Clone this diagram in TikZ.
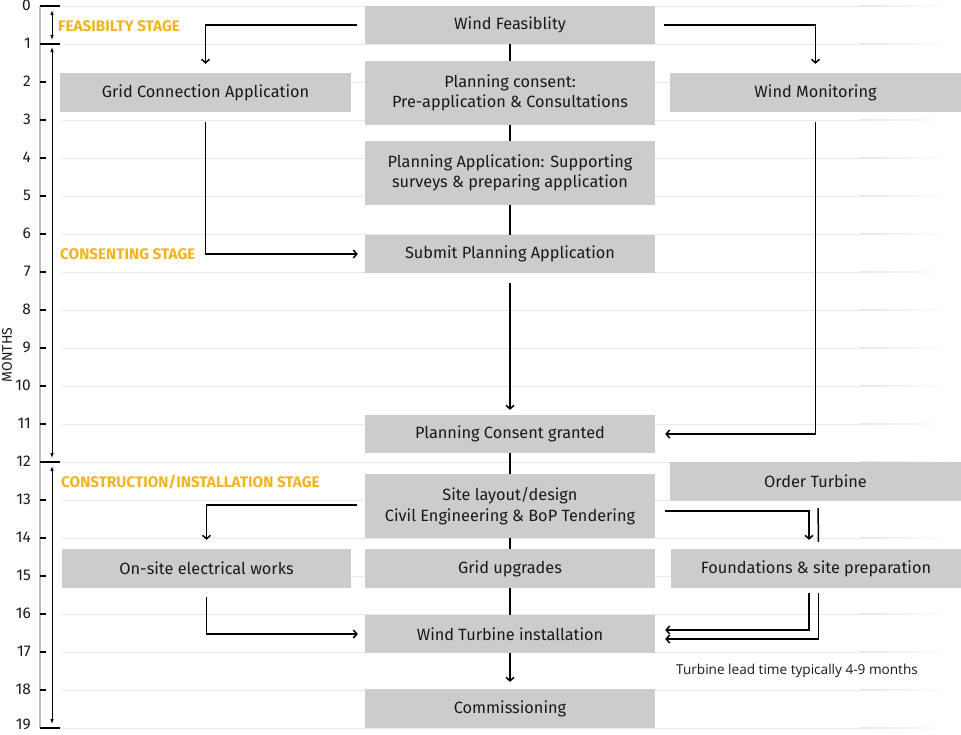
\documentclass[tikz,border=0pt]{standalone}
\usepackage{fontspec}
\setmainfont{Fira Sans}
\newfontfamily\notefont{Open Sans}
\usetikzlibrary{arrows.meta,calc}

\definecolor{boxgray}{RGB}{204,204,204}
\definecolor{stagegold}{RGB}{240,180,30}
\definecolor{gridgray}{RGB}{232,232,232}
\definecolor{axisgray}{RGB}{190,190,190}
\definecolor{ink}{RGB}{25,25,25}

\begin{document}
\begin{tikzpicture}[x=1pt,y=-1pt,
  stepbox/.style={fill=boxgray, inner sep=0pt, minimum width=290pt, minimum height=38pt,
    align=center, text=ink, font=\fontsize{16.3}{20.5}\selectfont},
  tall/.style={minimum height=64pt},
  link/.style={line width=1.5pt, black},
  flow/.style={link, -{Straight Barb[length=3.5pt,width=8pt,line width=1.5pt]}},
  stagelabel/.style={text=stagegold, font=\bfseries\fontsize{15.3}{17}\selectfont,
    anchor=west, inner sep=0pt},
  span/.style={line width=0.8pt,
    {Latex[length=5pt,width=3.5pt]}-{Latex[length=5pt,width=3.5pt]}},
  monthlabel/.style={anchor=east, inner sep=0pt, font=\fontsize{15.5}{15.5}\selectfont, text=ink},
]
\useasboundingbox (0,0) rectangle (961,734);

% month grid, axis and tick labels
\draw[axisgray, line width=2pt] (40,6) -- (40,728);
\foreach \m in {0,...,19}{
  \pgfmathsetmacro{\yy}{6+38*\m}
  \draw[gridgray, line width=1pt] (62,\yy) -- (860,\yy);
  \shade[left color=gridgray, right color=white] (860,\yy-0.5) rectangle (950,\yy+0.5);
  \coordinate (t\m) at (40,\yy);
  \draw[line width=1.5pt] (40,\yy) -- (46,\yy);
}
\foreach \m in {0,...,18}{
  \node[monthlabel] (m\m) at ($(t\m)+(-9,-1)$) {\m};
}
\node[monthlabel] (m19) at ($(t19)+(-9,-4)$) {19};
\foreach \m in {0,1,12,19}{
  \draw[line width=1.5pt] (t\m) -- ++(20,0);
}
\node[rotate=90, inner sep=0pt, text=ink, font=\fontsize{14}{14}\selectfont] (monthsaxis) at (7,355) {MONTHS};

% stage spans
\draw[span] ($(t0)+(12,4)$) -- ($(t1)+(12,-4)$);
\draw[span] ($(t1)+(12,3)$) -- ($(t12)+(12,-4)$);
\draw[span] ($(t12)+(12,4)$) -- ($(t19)+(12,-4)$);
\node[stagelabel] (feas) at (58,26) {FEASIBILTY STAGE};
\node[stagelabel] (cons) at (60,254) {CONSENTING STAGE};
\node[stagelabel] (constr) at (61,482) {CONSTRUCTION/INSTALLATION STAGE};

% activity boxes
\node[stepbox] (wf) at (510,25) {Wind Feasiblity};
\node[stepbox, tall] (pc) at (510,93) {Planning consent:\\Pre-application \& Consultations};
\node[stepbox, tall] (pa) at (510,173) {Planning Application: Supporting\\surveys \& preparing application};
\node[stepbox] (sub) at (510,254) {Submit Planning Application};
\node[stepbox] (pcg) at (510,434) {Planning Consent granted};
\node[stepbox, tall] (site) at (510,506) {Site layout/design\\Civil Engineering \& BoP Tendering};
\node[stepbox, minimum height=39pt] (gu) at (510,568.5) {Grid upgrades};
\node[stepbox] (wti) at (510,634) {Wind Turbine installation};
\node[stepbox, minimum height=39pt] (com) at (510,708.5) {Commissioning};
\node[stepbox, minimum width=291pt, minimum height=39pt] (gc) at (205.5,92.5) {Grid Connection Application};
\node[stepbox, minimum width=291pt, minimum height=39pt] (wm) at (815.5,92.5) {Wind Monitoring};
\node[stepbox, minimum width=291pt, minimum height=39pt] (ot) at (815.5,481.5) {Order Turbine};
\node[stepbox, minimum width=289pt, minimum height=39pt] (os) at (206.5,568.5) {On-site electrical works};
\node[stepbox, minimum height=39pt] (fd) at (816,568.5) {Foundations \& site preparation};

\node[anchor=west, inner sep=0pt, text=ink, font=\notefont\fontsize{13.6}{15}\selectfont] (leadnote)
  at (676,671) {Turbine lead time typically 4-9 months};

% main column links
\draw[link] (wf.south) -- (pc.north);
\draw[link] (pc.south) -- (pa.north);
\draw[link] (pa.south) -- (sub.north);
\draw[flow, shorten <=10pt, shorten >=5pt] (sub.south) -- (pcg.north);
\draw[link] (pcg.south) -- (site.north);
\draw[link] (site.south) -- (gu.north);
\draw[link] (gu.south) -- (wti.north);
\draw[flow, shorten >=7pt] (wti.south) -- (com.north);

% branches
\draw[flow, shorten <=8pt, shorten >=9pt] (wf.west) -| (gc.north);
\draw[flow, shorten <=9pt, shorten >=9pt] (wf.east) -| (wm.north);
\draw[flow, shorten <=10pt, shorten >=7pt] (gc.south) |- (sub.west);
\draw[flow, shorten <=10pt, shorten >=10pt] (wm.south) |- (pcg.east);
\draw[flow, shorten <=8pt, shorten >=9pt] ([yshift=1pt]site.west) -| (os.north);
\draw[flow, shorten <=10pt, shorten >=9pt] ([yshift=-5pt]site.east) -| ([xshift=-7pt]fd.north);
\draw[flow, shorten <=9pt, shorten >=7pt] (os.south) |- (wti.west);

% turbine delivery runs behind the foundations box
\draw[link, shorten <=7pt, shorten >=7pt] ([xshift=2.5pt]ot.south) -- ([xshift=2.5pt]fd.north);
\draw[flow, shorten <=5pt, shorten >=10pt] ([xshift=-7pt]fd.south) |- ([yshift=4pt]wti.east);
\draw[flow, shorten <=5pt, shorten >=10pt] ([xshift=2.5pt]fd.south) |- ([yshift=-5pt]wti.east);
\end{tikzpicture}
\end{document}
